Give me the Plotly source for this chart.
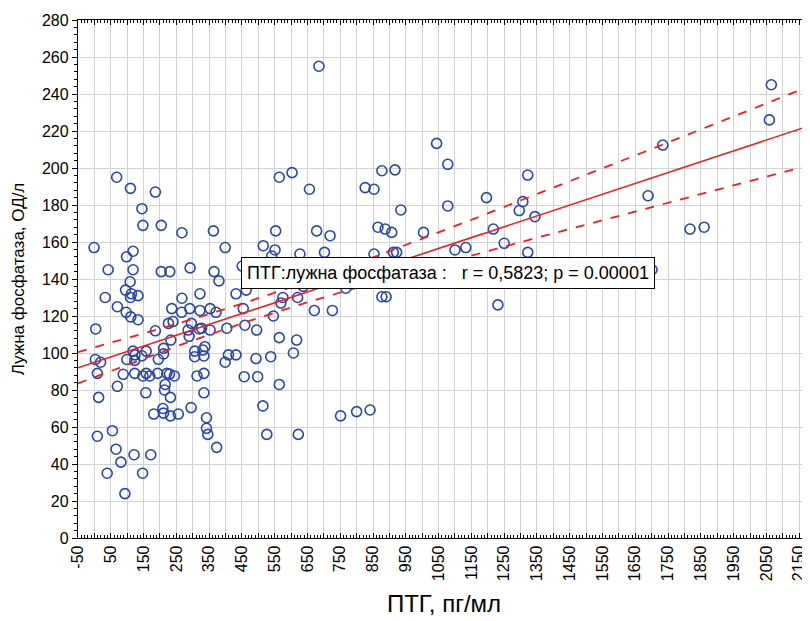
import numpy as np
import plotly.graph_objects as go

# ПТГ (pg/ml) values
ptg = [
    -1, 4, 3, 19, 9, 13, 9, 33, 42, 39, 55,
    68, 70, 66, 70, 81, 88, 93, 97, 98, 95, 99,
    110, 109, 118, 118, 113, 110, 133, 111, 133, 118, 124, 123, 123, 121,
    145, 148, 145, 158, 148, 158, 169, 157, 147, 172, 181,
    186, 204, 204, 230, 186, 195, 193, 211, 211, 216, 221, 214, 232, 209, 211, 232, 256,
    226, 240, 233, 229, 244, 236,
    267, 292, 267, 266, 291, 296, 286, 289, 295, 306, 306,
    313, 322, 322, 320, 327, 331, 334, 337, 334, 334, 342, 342, 346,
    353, 353, 363, 365, 371, 373, 380, 399, 399, 404, 409, 432,
    432, 451, 463, 454, 459, 457, 495, 493, 498,
    515, 514, 526, 538, 541, 546, 551, 553, 564, 564, 564, 569, 575,
    603, 607, 617, 622, 627, 637, 656, 671, 678, 685, 702, 719, 726, 620,
    751, 767, 800, 826, 841, 841, 853, 853, 865, 877, 877, 887, 890, 907, 912, 917, 922, 935,
    1004, 1044, 1078, 1078, 1100, 1133, 1196, 1217, 1231, 1250, 1282, 1296, 1307, 1322, 1322, 1344,
    1689, 1701, 1734, 1817, 1860, 2059, 2065,
]
# Лужна фосфатаза (OD/l) values
alp = [
    157, 113, 96.5, 95, 89, 76, 55, 130, 145, 35, 58,
    195, 125, 48, 82, 41, 88.5, 24, 122, 152, 134, 96.5,
    189, 138.5, 155, 145, 132, 130, 131, 119.5, 118, 101, 99, 96, 89, 45,
    178, 169, 98.5, 101, 87.6, 89, 87.6, 78.5, 35, 45, 67,
    187, 169, 144, 144, 112, 96.6, 89, 102.5, 99.5, 83, 89, 80, 76, 70, 67.5, 66, 67,
    116, 117, 107, 88.6, 87.6, 124,
    165, 146, 129.6, 122, 124, 116, 112.4, 109, 70.5, 101, 98,
    87.6, 132, 123, 113, 113.4, 101.6, 98.4, 103.4, 89, 78.5, 65, 59.3, 56,
    124, 112.4, 166, 144, 122, 49, 139, 157, 95, 113.4, 99, 99,
    132, 147, 134, 124, 115, 87.2, 112.4, 97, 87.2,
    158, 71.4, 56, 98, 152.4, 120, 155.7, 166, 195, 108.3, 83, 127, 130,
    197.5, 100, 107, 56, 153.5, 136, 188.5, 123, 166, 255, 154.4, 163.4, 123, 130,
    66, 135, 68.3, 189.4, 137.7, 69.2, 188.5, 153.5, 168, 198.5, 130.4, 167, 130.4, 165.2, 154.4, 199, 154.4, 177.3,
    165.2, 213.3, 202, 179.5, 155.7, 157, 184, 167, 126, 159.3, 137.7, 177, 181.8, 196.2, 154.4, 173.7,
    185, 145, 212.4, 167, 168, 226, 245,
]

x_tick_vals = list(range(-50, 2151, 50))
x_tick_text = [str(v) if (v + 50) % 100 == 0 else "" for v in x_tick_vals]
y_tick_vals = list(range(0, 281, 20))

stat_text = "ПТГ:лужна фосфатаза :\u00a0\u00a0\u00a0r = 0,5823; p = 0.00001"

# regression and 95% confidence band computed from the data
x = np.array(ptg, dtype=float)
y = np.array(alp, dtype=float)
n = len(x)
b, a = np.polyfit(x, y, 1)
xbar = x.mean()
sxx = ((x - xbar) ** 2).sum()
resid = y - (a + b * x)
s = np.sqrt((resid ** 2).sum() / (n - 2))
t = 1.973
xl = np.linspace(-50, 2200, 200)
yl = a + b * xl
half = t * s * np.sqrt(1.0 / n + (xl - xbar) ** 2 / sxx)

red = "rgb(240,30,30)"
blue = "rgb(40,70,170)"

fig = go.Figure()
fig.add_trace(go.Scatter(
    x=ptg, y=alp, mode="markers",
    marker=dict(symbol="circle-open", size=10, color=blue,
                line=dict(width=1.6, color=blue)),
    showlegend=False,
))
fig.add_trace(go.Scatter(x=xl, y=yl, mode="lines",
                         line=dict(color=red, width=1.6), showlegend=False))
fig.add_trace(go.Scatter(x=xl, y=yl + half, mode="lines",
                         line=dict(color=red, width=1.8, dash="dash"), showlegend=False))
fig.add_trace(go.Scatter(x=xl, y=yl - half, mode="lines",
                         line=dict(color=red, width=1.8, dash="dash"), showlegend=False))

font_family = "Liberation Sans, Arial, sans-serif"

fig.add_annotation(
    x=447, y=143.5, xref="x", yref="y", xanchor="left", yanchor="middle",
    text=stat_text, showarrow=False,
    font=dict(family=font_family, size=18, color="black"),
    bgcolor="white", bordercolor="black", borderwidth=1, borderpad=5,
)

fig.update_layout(
    width=802, height=613,
    margin=dict(l=70, r=0, t=12, b=83),
    paper_bgcolor="white", plot_bgcolor="white",
    font=dict(family=font_family, size=16, color="black"),
    xaxis=dict(
        range=[-50, 2183], tickmode="array", tickvals=x_tick_vals, ticktext=x_tick_text,
        tickangle=-90, ticks="inside", ticklen=5, tickcolor="black",
        showgrid=True, gridcolor="rgb(210,210,210)", gridwidth=1.4,
        showline=True, linecolor="black", linewidth=1.3, mirror="ticks",
        zeroline=False, tickfont=dict(size=16),
        minor=dict(dtick=10, tick0=-50, ticks="inside", ticklen=3, tickcolor="black", showgrid=False),
        title=dict(text="ПТГ, пг/мл", font=dict(size=24), standoff=15),
    ),
    yaxis=dict(
        range=[0, 280], tickmode="array", tickvals=y_tick_vals,
        ticks="outside", ticklen=5, tickcolor="black",
        showgrid=True, gridcolor="rgb(210,210,210)", gridwidth=1.4,
        showline=True, linecolor="black", linewidth=1.3,
        zeroline=False, tickfont=dict(size=16),
        minor=dict(dtick=4, tick0=0, ticks="outside", ticklen=3, tickcolor="black", showgrid=False),
        title=dict(text="Лужна фосфатаза, ОД/л", font=dict(size=17), standoff=12),
    ),
)

fig.write_html("out.html")
